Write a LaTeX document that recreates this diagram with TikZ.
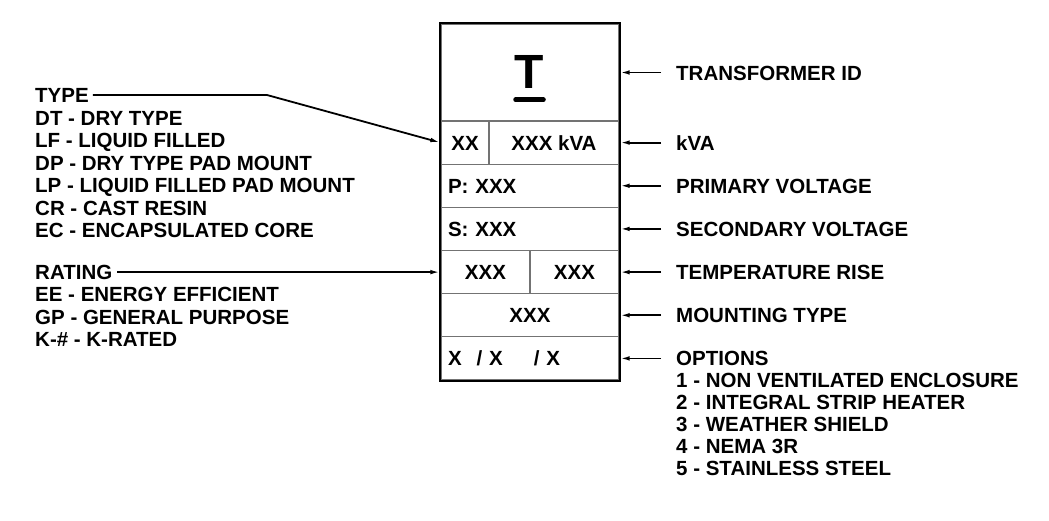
\documentclass[tikz,border=0pt]{standalone}
\usepackage{fontspec}
\setmainfont{Liberation Sans}
\usetikzlibrary{arrows.meta}

\begin{document}
\begin{tikzpicture}[x=1pt,y=-1pt,>={Latex[length=10pt,width=4.5pt]},
		font=\fontsize{20.5}{22}\selectfont\bfseries,
		lbl/.style={anchor=west,inner sep=0pt,text height=15pt,text depth=0pt},
		cell/.style={draw=black!55,line width=1.3pt,inner sep=0pt,minimum height=43.17pt,
			text height=15pt,text depth=0pt},
		lcell/.style={cell,align=left,text width=164pt,inner xsep=7pt},
		lead/.style={line width=1.8pt}]
		\useasboundingbox (0,0) rectangle (1049,520);

		% the cells of the name plate
		\node[cell,minimum width=178pt,minimum height=97pt] (idcell) at (530,72.5) {};
		\node[cell,minimum width=48pt]  (kind) at (465,142.6) {XX};
		\node[cell,minimum width=130pt] (kva)  at (554,142.6) {XXX kVA};
		\node[lcell] (pri) at (530,185.75) {P: XXX};
		\node[lcell] (sec) at (530,228.9) {S: XXX};
		\node[cell,minimum width=89pt]  (tmpa) at (485.5,272.1) {XXX};
		\node[cell,minimum width=89pt]  (tmpb) at (574.5,272.1) {XXX};
		\node[cell,minimum width=178pt] (mount) at (530,315.25) {XXX};
		\node[lcell] (opt) at (530,358.4) {X\hspace{15pt}/ X\hspace{31pt}/ X};

		% outer frame
		\draw[line width=2.2pt] (idcell.north west) rectangle (opt.south east);

		% the big id letter
		\node[inner sep=0pt,text height=34pt,text depth=0pt,font=\fontsize{48}{48}\selectfont\bfseries]
			(tid) at (529.5,71.5) {T};
		\draw[line width=4.5pt,line cap=round] ([xshift=-14pt,yshift=-11pt]tid.south)
			-- ([xshift=14pt,yshift=-11pt]tid.south);

		% labels on the right
		\foreach \cellname/\txt in {idcell/TRANSFORMER ID,kva/kVA,pri/PRIMARY VOLTAGE,
			sec/SECONDARY VOLTAGE,tmpb/TEMPERATURE RISE,mount/MOUNTING TYPE,opt/OPTIONS}
		{
			\node[lbl] (lbl\cellname) at (676,0 |- \cellname.east) {\txt};
			\draw[lead,->] ([xshift=-15pt]lbl\cellname.west) -- (\cellname.east);
		}
		\foreach \txt [count=\i] in {1 - NON VENTILATED ENCLOSURE,2 - INTEGRAL STRIP HEATER,
			3 - WEATHER SHIELD,4 - NEMA 3R,5 - STAINLESS STEEL}
			\node[lbl] (option\i) at (676,358.4+22*\i) {\txt};

		% labels on the left
		\node[lbl] (type) at (35,95) {TYPE};
		\foreach \txt [count=\i] in {DT - DRY TYPE,LF - LIQUID FILLED,DP - DRY TYPE PAD MOUNT,
			LP - LIQUID FILLED PAD MOUNT,CR - CAST RESIN,EC - ENCAPSULATED CORE}
			\node[lbl] (type\i) at (35,95+22.5*\i) {\txt};
		\coordinate (bend) at (267,95);
		\draw[lead,->] ([xshift=4pt]type.east) -- (bend) -- (kind.west);

		\node[lbl] (rating) at (35,272.1) {RATING};
		\foreach \txt [count=\i] in {EE - ENERGY EFFICIENT,GP - GENERAL PURPOSE,K-\# - K-RATED}
			\node[lbl] (rating\i) at (35,272.1+22.2*\i) {\txt};
		\draw[lead,->] ([xshift=5pt]rating.east) -- (tmpa.west);
	\end{tikzpicture}
\end{document}
